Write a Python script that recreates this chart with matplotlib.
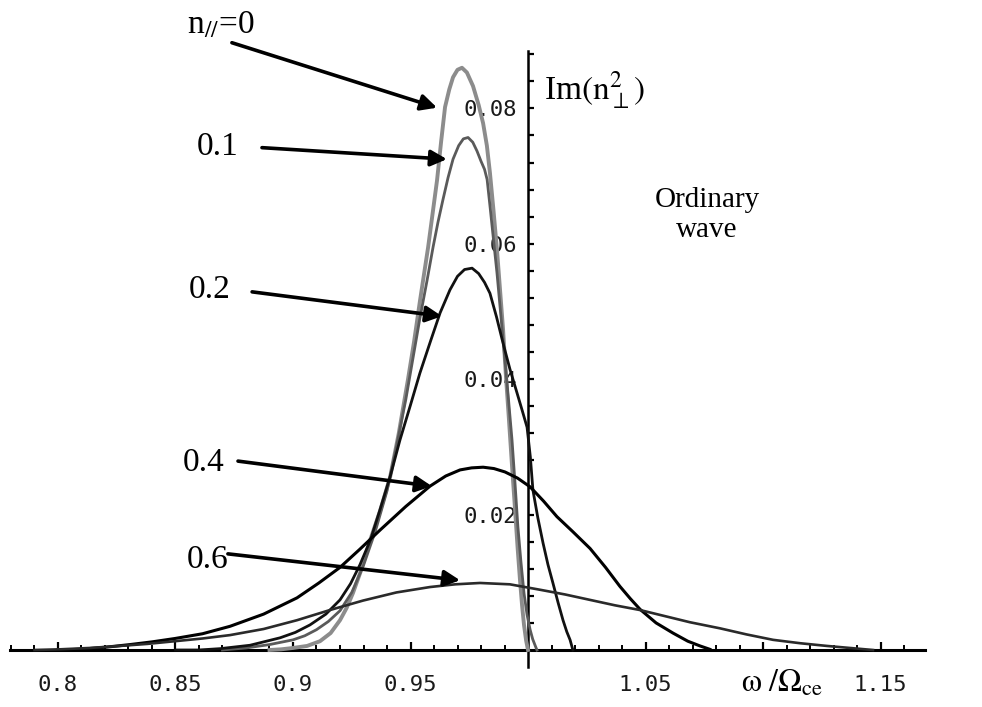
import matplotlib
matplotlib.use("Agg")
import matplotlib.pyplot as plt
import numpy as np
from matplotlib.ticker import FixedLocator

plt.rcParams["mathtext.fontset"] = "stix"
plt.rcParams["font.family"] = ["Liberation Serif", "DejaVu Serif"]

# Imaginary part of n_perp^2 for the ordinary wave, versus omega / Omega_ce
n0_x = [0.890, 0.895, 0.900, 0.906, 0.9115, 0.916, 0.920, 0.9228, 0.9255, 0.929,
        0.9328, 0.937, 0.9413, 0.945, 0.9489, 0.9515, 0.9540, 0.9575, 0.9613, 0.9630,
        0.9647, 0.9665, 0.9681, 0.9700, 0.9719, 0.9740, 0.9766, 0.9790, 0.9809, 0.9825,
        0.9838, 0.9853, 0.9868, 0.9881, 0.9894, 0.9906, 0.9919, 0.9932, 0.9945, 0.9956,
        0.9966, 0.9975, 0.9983, 0.9992, 1.0000]
n0_y = [0.0000, 0.0001, 0.0003, 0.0006, 0.0013, 0.0025, 0.0044, 0.0062, 0.0084, 0.0118,
        0.0162, 0.0205, 0.0255, 0.0320, 0.0399, 0.0455, 0.0515, 0.0595, 0.0694, 0.0750,
        0.0802, 0.0828, 0.0846, 0.0857, 0.0860, 0.0853, 0.0833, 0.0805, 0.0778, 0.0745,
        0.0705, 0.0650, 0.0591, 0.0532, 0.0473, 0.0405, 0.0340, 0.0272, 0.0207, 0.0150,
        0.0103, 0.0065, 0.0037, 0.0014, 0.0000]

n1_x = [0.870, 0.880, 0.890, 0.900, 0.905, 0.910, 0.915, 0.920, 0.925, 0.930,
        0.935, 0.940, 0.944, 0.948, 0.951, 0.954, 0.957, 0.9596, 0.9617, 0.9638,
        0.966, 0.9681, 0.9705, 0.9725, 0.9745, 0.9765, 0.9783, 0.9800, 0.9815, 0.9826,
        0.9840, 0.9855, 0.9868, 0.9885, 0.9902, 0.9917, 0.9932, 0.9945, 0.9957, 0.9970,
        0.9983, 0.9996, 1.0009, 1.0020, 1.0030, 1.0038]
n1_y = [0.0000, 0.0003, 0.0008, 0.0015, 0.0021, 0.0030, 0.0042, 0.0058, 0.0085, 0.0125,
        0.0175, 0.0235, 0.0300, 0.0370, 0.0430, 0.0490, 0.0545, 0.0595, 0.0632, 0.0665,
        0.0698, 0.0725, 0.0745, 0.0755, 0.0757, 0.0750, 0.0737, 0.0722, 0.0710, 0.0695,
        0.0650, 0.0600, 0.0557, 0.0492, 0.0428, 0.0370, 0.0310, 0.0245, 0.0182, 0.0130,
        0.0084, 0.0052, 0.0030, 0.0016, 0.0007, 0.0000]

n2_x = [0.850, 0.860, 0.869, 0.8817, 0.8945, 0.901, 0.9072, 0.914, 0.920, 0.9245,
        0.9285, 0.933, 0.937, 0.9415, 0.9455, 0.950, 0.954, 0.9585, 0.9626, 0.9668,
        0.9700, 0.9730, 0.9762, 0.9790, 0.9815, 0.9838, 0.9866, 0.9894, 0.9923, 0.9953,
        0.9976, 0.9996, 1.0010, 1.0021, 1.0042, 1.0064, 1.0085, 1.0106, 1.0128, 1.0149,
        1.0165, 1.0179, 1.0191]
n2_y = [0.0000, 0.0000, 0.0002, 0.0007, 0.0018, 0.0026, 0.0037, 0.0053, 0.0074, 0.0098,
        0.0126, 0.0163, 0.0207, 0.0258, 0.0310, 0.0362, 0.0409, 0.0456, 0.0498, 0.0532,
        0.0552, 0.0562, 0.0564, 0.0556, 0.0543, 0.0527, 0.0492, 0.0453, 0.0415, 0.0380,
        0.0353, 0.0329, 0.0285, 0.0236, 0.0195, 0.0158, 0.0126, 0.0099, 0.0070, 0.0044,
        0.0027, 0.0015, 0.0000]

n4_x = [0.800, 0.8094, 0.820, 0.8306, 0.840, 0.8498, 0.8615, 0.8732, 0.8875, 0.9017,
        0.911, 0.920, 0.9285, 0.937, 0.948, 0.9583, 0.9650, 0.9711, 0.9760, 0.9809,
        0.9855, 0.9902, 0.9955, 1.0009, 1.0066, 1.0123, 1.0190, 1.0264, 1.0330, 1.0391,
        1.0435, 1.0477, 1.0545, 1.0617, 1.0680, 1.0732, 1.0774]
n4_y = [0.0000, 0.0001, 0.0004, 0.0008, 0.0012, 0.0017, 0.0024, 0.0035, 0.0053, 0.0077,
        0.0099, 0.0122, 0.0149, 0.0177, 0.0212, 0.0242, 0.0257, 0.0266, 0.0269, 0.0270,
        0.0268, 0.0263, 0.0254, 0.0241, 0.0220, 0.0197, 0.0175, 0.0150, 0.0122, 0.0094,
        0.0076, 0.0060, 0.0040, 0.0025, 0.0013, 0.0006, 0.0001]

n6_x = [0.790, 0.8009, 0.8135, 0.8264, 0.838, 0.8498, 0.8615, 0.8732, 0.8875, 0.9017,
        0.9157, 0.9298, 0.944, 0.9583, 0.969, 0.9796, 0.9923, 1.0051, 1.0158, 1.0264,
        1.037, 1.0477, 1.0583, 1.0689, 1.0817, 1.093, 1.1043, 1.1158, 1.1272, 1.137,
        1.1468]
n6_y = [0.0000, 0.0001, 0.0003, 0.0006, 0.0009, 0.0013, 0.0017, 0.0022, 0.0031, 0.0044,
        0.0059, 0.0073, 0.0085, 0.0093, 0.0097, 0.0099, 0.0097, 0.0089, 0.0082, 0.0074,
        0.0066, 0.0059, 0.0050, 0.0041, 0.0032, 0.0023, 0.0015, 0.0010, 0.0006, 0.0003,
        0.0000]

x_major = [0.80, 0.85, 0.90, 0.95, 1.00, 1.05, 1.10, 1.15]
x_labels = ["0.8", "0.85", "0.9", "0.95", "", "1.05", "", "1.15"]
y_major = [0.02, 0.04, 0.06, 0.08]
y_labels = ["0.02", "0.04", "0.06", "0.08"]

fig = plt.figure(figsize=(9.82, 7.07), dpi=100)
ax = fig.add_axes([0, 0, 1, 1])
ax.set_xlim(0.77532, 1.19319)
ax.set_ylim(-0.00842, 0.09601)

# curves
ax.plot(n0_x, n0_y, color="#8c8c8c", lw=2.8, solid_joinstyle="round", zorder=3)
ax.plot(n1_x, n1_y, color="#5a5a5a", lw=2.0, solid_joinstyle="round", zorder=3)
ax.plot(n2_x, n2_y, color="#111111", lw=2.0, solid_joinstyle="round", zorder=3)
ax.plot(n4_x, n4_y, color="#000000", lw=2.2, solid_joinstyle="round", zorder=3)
ax.plot(n6_x, n6_y, color="#2a2a2a", lw=1.9, solid_joinstyle="round", zorder=3)

# axes crossing at (1, 0), Mathematica style
for s in ("top", "right"):
    ax.spines[s].set_visible(False)
ax.spines["left"].set_position(("data", 1.0))
ax.spines["left"].set_bounds(-0.0025, 0.0885)
ax.spines["left"].set_linewidth(1.8)
ax.spines["bottom"].set_position(("data", 0.0))
ax.spines["bottom"].set_bounds(0.7796, 1.169)
ax.spines["bottom"].set_linewidth(2.2)

ax.xaxis.set_major_locator(FixedLocator(x_major))
ax.set_xticklabels(x_labels)
ax.xaxis.set_minor_locator(FixedLocator(np.round(np.arange(0.78, 1.165, 0.01), 3)))
ax.yaxis.set_major_locator(FixedLocator(y_major))
ax.set_yticklabels(y_labels)
ax.yaxis.set_minor_locator(FixedLocator(np.round(np.arange(0.004, 0.0885, 0.004), 4)))

ax.tick_params(axis="x", which="major", direction="in", length=6, width=1.6, pad=18)
ax.tick_params(axis="x", which="minor", direction="in", length=3.5, width=1.4)
ax.tick_params(axis="y", which="both", direction="in", length=4, width=1.6, pad=8)
for lab in ax.get_xticklabels() + ax.get_yticklabels():
    lab.set_family("DejaVu Sans Mono")
    lab.set_fontsize(16)
    lab.set_color("#1a1a1a")

# axis titles
ax.text(1.108, -0.0062, r"$\mathrm{\omega}\ /\Omega_{\mathrm{ce}}$", fontsize=23,
        ha="center", va="baseline")
ax.text(1.0070, 0.0827, r"Im$(\mathrm{n}_{\perp}^{2})$", fontsize=24,
        ha="left", va="center")
ax.text(1.0762, 0.0643, "Ordinary\nwave", fontsize=21, ha="center", va="center",
        linespacing=1.2)

# labels for each n_parallel value
arrow = dict(arrowstyle="-|>", lw=2.6, color="black", mutation_scale=24,
             shrinkA=0, shrinkB=0)
ax.annotate("", xy=(0.9613, 0.0801), xytext=(0.8740, 0.0897), arrowprops=arrow)
ax.text(0.8694, 0.0923, r"n$_{//}$=0", fontsize=24, ha="center", va="center")

ax.annotate("", xy=(0.9655, 0.0725), xytext=(0.8868, 0.0742), arrowprops=arrow)
ax.text(0.8681, 0.0743, "0.1", fontsize=24, ha="center", va="center")

ax.annotate("", xy=(0.9634, 0.0493), xytext=(0.8826, 0.0529), arrowprops=arrow)
ax.text(0.8647, 0.0532, "0.2", fontsize=24, ha="center", va="center")

ax.annotate("", xy=(0.9591, 0.0242), xytext=(0.8766, 0.0279), arrowprops=arrow)
ax.text(0.8621, 0.0276, "0.4", fontsize=24, ha="center", va="center")

ax.annotate("", xy=(0.9711, 0.0103), xytext=(0.8723, 0.0142), arrowprops=arrow)
ax.text(0.8638, 0.0133, "0.6", fontsize=24, ha="center", va="center")

fig.savefig("out.png", dpi=100, facecolor="white")
